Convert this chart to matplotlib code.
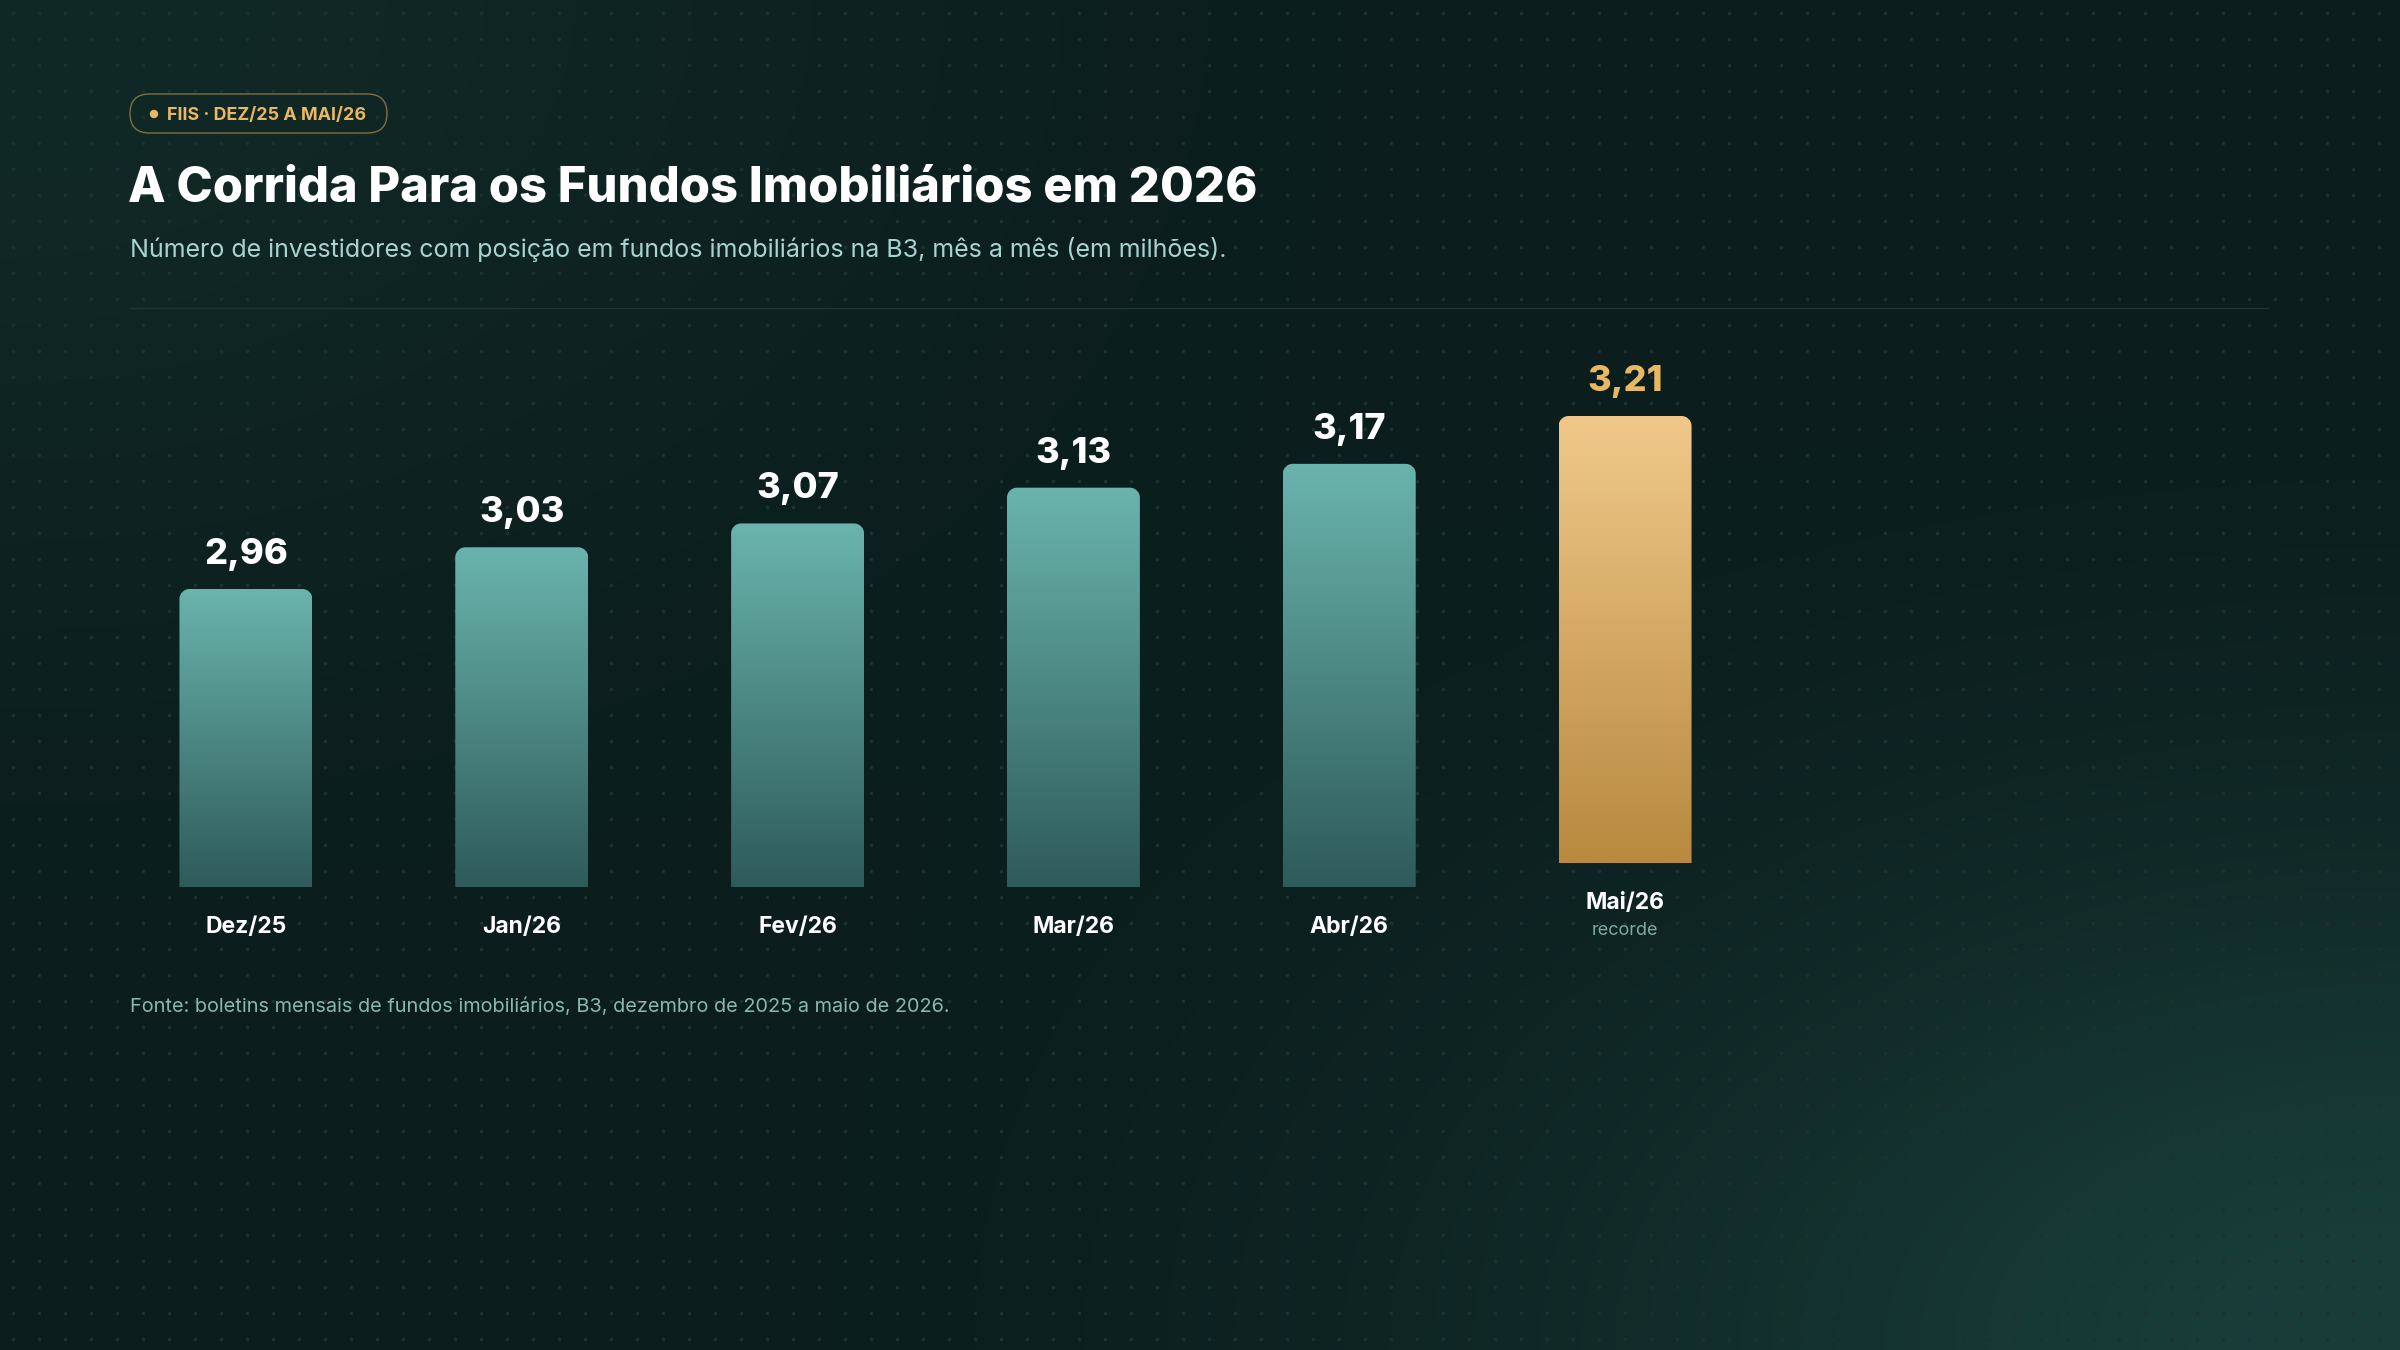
import numpy as np
import matplotlib.pyplot as plt
from matplotlib.patches import FancyBboxPatch, PathPatch, Circle
from matplotlib.path import Path

# --- data ---
months = ["Dez/25", "Jan/26", "Fev/26", "Mar/26", "Abr/26", "Mai/26"]
investors = [2.96, 3.03, 3.07, 3.13, 3.17, 3.21]   # milhões
highlight = [False, False, False, False, False, True]
note = {"Mai/26": "recorde"}

title = "A Corrida Para os Fundos Imobiliários em 2026"
subtitle = "Número de investidores com posição em fundos imobiliários na B3, mês a mês (em milhões)."
badge = "FIIS · DEZ/25 A MAI/26"
source = "Fonte: boletins mensais de fundos imobiliários, B3, dezembro de 2025 a maio de 2026."

# --- style ---
W, H = 2400, 1350
BG = np.array([11, 29, 29]) / 255
TEAL_TOP, TEAL_BOT = "#6ab4ad", "#2e5b59"
GOLD_TOP, GOLD_BOT = "#f0c98a", "#b8893f"
GOLD = "#e8b863"
plt.rcParams['font.family'] = ['Inter', 'DejaVu Sans']

fig = plt.figure(figsize=(24, 13.5), dpi=100)

# background: gradient + dot grid
bg = fig.add_axes([0, 0, 1, 1])
bg.set_xlim(0, W)
bg.set_ylim(H, 0)
bg.axis("off")
gy, gx = np.mgrid[0:H:4, 0:W:4]
img = np.ones(gx.shape + (3,)) * BG
tl = np.exp(-((gx / 900.0) ** 2 + (gy / 600.0) ** 2))
br = np.exp(-(((W - gx) / 850.0) ** 2 + ((H - gy) / 520.0) ** 2))
img += tl[..., None] * (np.array([17, 41, 38]) / 255 - BG)
img += br[..., None] * (np.array([25, 62, 58]) / 255 - BG)
bg.imshow(np.clip(img, 0, 1), extent=[0, W, H, 0], aspect="auto", zorder=0)
dx, dy = np.meshgrid(np.arange(13, W, 26), np.arange(13, H, 26))
bg.scatter(dx.ravel(), dy.ravel(), s=7, color="#1b322f", linewidths=0, zorder=1)

# badge
pill = FancyBboxPatch((130, 94), 257, 39, boxstyle="round,pad=0,rounding_size=19.5",
                      facecolor="none", edgecolor=GOLD, alpha=0.5, linewidth=1.0, zorder=3)
bg.add_patch(pill)
bg.add_patch(Circle((154, 114), 3.5, color=GOLD, zorder=3))
bg.text(167, 120, badge, color=GOLD, fontsize=12.9, fontweight="bold", va="baseline", zorder=3)

# title block
bg.text(128, 202, title, color="white", fontsize=35.2, fontweight=800, va="baseline")
bg.text(130, 257, subtitle, color="#a9d3d3", fontsize=18.0, va="baseline")
bg.plot([130, 2268], [308, 308], color="#1f3633", linewidth=1.0)
bg.text(130, 1012, source, color="#8ab7b2", fontsize=14.35, va="baseline")

# --- bars ---
ybase = 2.46          # value at the bar baseline
ytop = 3.40
px_per_unit = 596.0
x_left, x_right = 108, 1763
ax = fig.add_axes([x_left / W, (H - 887) / H, (x_right - x_left) / W,
                   (ytop - ybase) * px_per_unit / H])
ax.set_xlim(-0.5, len(months) - 0.5)
ax.set_ylim(ybase, ytop)
ax.axis("off")
ax.patch.set_alpha(0)

lift = 24 / px_per_unit  # highlighted bar is raised to make room for its note
x = np.arange(len(months))
bottoms = [ybase + (lift if h else 0) for h in highlight]
heights = [v - ybase for v in investors]
bars = ax.bar(x, heights, bottom=bottoms, width=0.482, color="none", linewidth=0)

px_x = (x_right - x_left) / len(months)
rx, ry = 10 / px_x, 10 / px_per_unit
k = 0.5523


def top_rounded(x0, x1, y0, y1):
    verts = [(x0, y0), (x1, y0), (x1, y1 - ry),
             (x1, y1 - ry + k * ry), (x1 - rx + k * rx, y1), (x1 - rx, y1),
             (x0 + rx, y1),
             (x0 + rx - k * rx, y1), (x0, y1 - ry + k * ry), (x0, y1 - ry),
             (x0, y0)]
    codes = [Path.MOVETO, Path.LINETO, Path.LINETO,
             Path.CURVE4, Path.CURVE4, Path.CURVE4,
             Path.LINETO,
             Path.CURVE4, Path.CURVE4, Path.CURVE4,
             Path.CLOSEPOLY]
    return Path(verts, codes)


def ramp(c_top, c_bot, n=256):
    a = np.array(plt.matplotlib.colors.to_rgb(c_top))
    b = np.array(plt.matplotlib.colors.to_rgb(c_bot))
    t = np.linspace(0, 1, n)[:, None]
    return ((1 - t) * a + t * b)[:, None, :]


for rect, val, m, hl in zip(bars, investors, months, highlight):
    x0, y0 = rect.get_x(), rect.get_y()
    x1, y1 = x0 + rect.get_width(), y0 + rect.get_height()
    patch = PathPatch(top_rounded(x0, x1, y0, y1), facecolor="none", edgecolor="none")
    ax.add_patch(patch)
    top, bot = (GOLD_TOP, GOLD_BOT) if hl else (TEAL_TOP, TEAL_BOT)
    im = ax.imshow(ramp(top, bot), extent=(x0, x1, y0, y1), aspect="auto",
                   origin="upper", zorder=2)
    im.set_clip_path(patch)
    xc = x0 + rect.get_width() / 2
    ax.annotate(f"{val:.2f}".replace(".", ","), (xc, y1), xytext=(0, 18),
                textcoords="offset points", ha="center", va="baseline",
                fontsize=26, fontweight=800, color=GOLD if hl else "white")
    ax.annotate(m, (xc, y0), xytext=(0, -33), textcoords="offset points",
                ha="center", va="baseline", fontsize=16.5, fontweight="bold", color="white")
    if m in note:
        ax.annotate(note[m], (xc, y0), xytext=(0, -52), textcoords="offset points",
                    ha="center", va="baseline", fontsize=13, color="#7fa9a6")

ax.set_xlim(-0.5, len(months) - 0.5)
ax.set_ylim(ybase, ytop)

fig.savefig("out.png", dpi=100, facecolor=BG)
